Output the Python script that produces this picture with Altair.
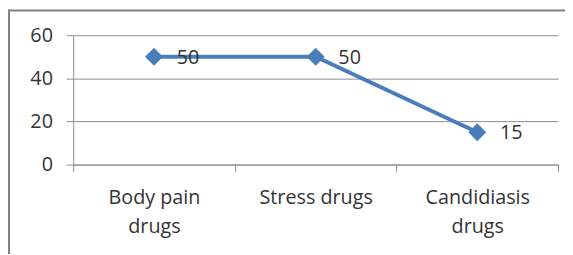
import altair as alt
import pandas as pd

categories = ["Body pain drugs", "Stress drugs", "Candidiasis drugs"]
values = [50, 50, 15]
y_ticks = [0, 20, 40, 60]

df = pd.DataFrame({"cat": categories, "val": values})

FONT = "Open Sans"
TEXT = "#333333"
BLUE = "#4a7ebb"
GRID = "#8c8c8c"
FS = 20

label_expr = (
    "datum.label == 'Stress drugs' ? datum.label : "
    "[substring(datum.label, 0, lastindexof(datum.label, ' ')), "
    "substring(datum.label, lastindexof(datum.label, ' ') + 1)]"
)

x = alt.X(
    "cat:N",
    sort=categories,
    scale=alt.Scale(paddingInner=0, paddingOuter=0),
    axis=alt.Axis(
        title=None, labelAngle=0, labelExpr=label_expr, labelFont=FONT,
        labelFontSize=FS, labelColor=TEXT, labelPadding=16, labelLineHeight=30,
        tickBand="extent", tickSize=7, tickColor=GRID, domainColor=GRID,
        grid=False, labelBaseline="top",
    ),
)
y = alt.Y(
    "val:Q",
    scale=alt.Scale(domain=[0, 60]),
    axis=alt.Axis(
        title=None, values=y_ticks, labelFont=FONT, labelFontSize=FS,
        labelColor=TEXT, labelPadding=14, tickSize=7, tickColor=GRID,
        domainColor=GRID, gridColor=GRID, grid=True,
    ),
)

base = alt.Chart(df)
line = base.mark_line(color=BLUE, strokeWidth=4).encode(x=x, y=y)
pts = base.mark_point(shape="diamond", filled=True, size=330, color=BLUE, opacity=1).encode(x=x, y=y)
labels = base.mark_text(align="left", baseline="middle", dx=23, dy=1, font=FONT,
                        fontSize=FS, color=TEXT).encode(x=x, y=y, text="val:Q")

frame_df = pd.DataFrame({"a": [0]})
top = alt.Chart(frame_df).mark_rule(color="#808080", strokeWidth=2).encode(
    x=alt.value(-66), x2=alt.value(510), y=alt.value(-25))
left = alt.Chart(frame_df).mark_rule(color="#808080", strokeWidth=2).encode(
    x=alt.value(-65), y=alt.value(-26), y2=alt.value(300))

chart = alt.layer(line, pts, labels, top, left).properties(
    width=491, height=131,
    autosize=alt.AutoSizeParams(type="none"),
    padding={"left": 66, "top": 26, "right": 7, "bottom": 89},
).configure(background="white", view=alt.ViewConfig(stroke=None))

chart.save("out.html", embed_options={"renderer": "svg", "actions": False})
